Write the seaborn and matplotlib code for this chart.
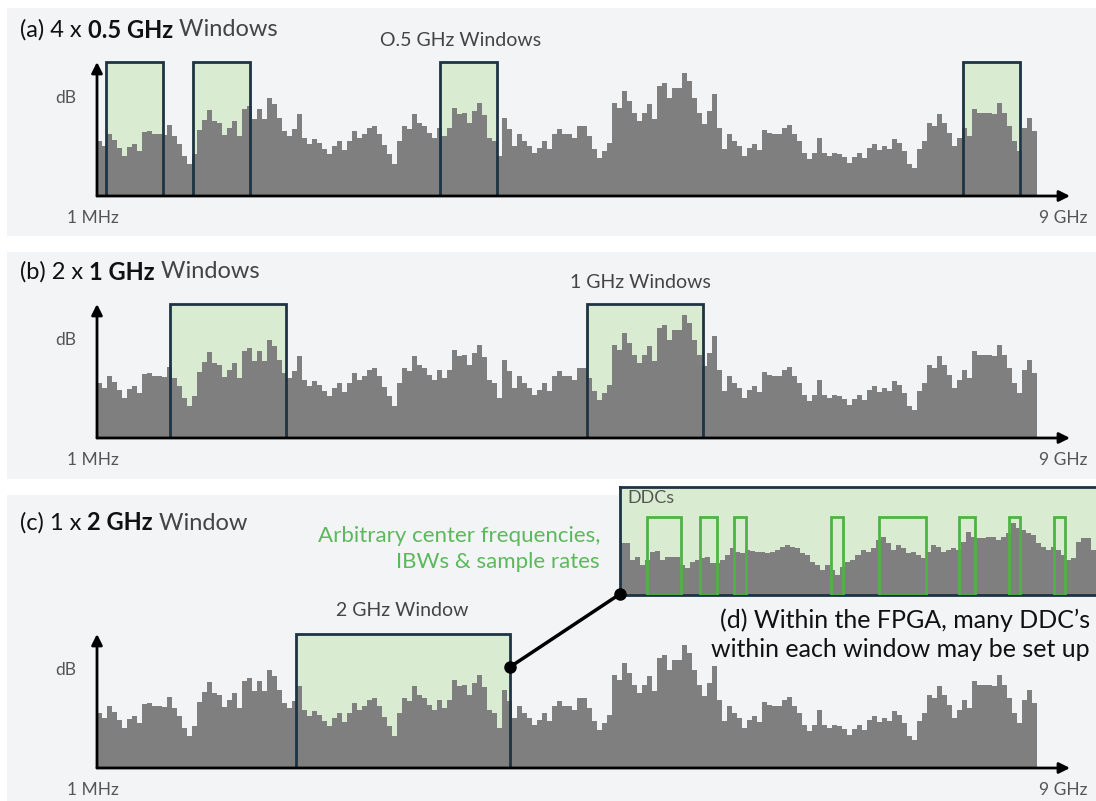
import numpy as np
import pandas as pd
import matplotlib
matplotlib.use("Agg")
import matplotlib.pyplot as plt
from matplotlib.patches import Rectangle
from matplotlib.lines import Line2D
import seaborn as sns

# spectrum heights (same trace in all three panels), 188 bins over 0..9 GHz
spectrum_db = [55, 50, 62, 56, 48, 40, 49, 52, 45, 64, 65, 62, 62, 61, 71, 60, 52, 40, 32, 42,
               66, 76, 86, 75, 73, 61, 68, 75, 60, 87, 90, 77,
               87, 77, 98, 92, 78, 65, 60, 67, 82, 58, 52, 57, 53, 47, 42, 50, 55, 46, 55, 65,
               58, 62, 68, 70, 62, 51, 42, 32, 55, 70, 67,
               82, 73, 70, 63, 58, 68, 60, 68, 88, 82, 83, 73, 85, 93, 81, 58, 55, 40, 78, 67,
               50, 62, 55, 50, 43, 48, 55, 47, 62, 67, 62,
               62, 58, 70, 70, 60, 47, 38, 45, 53, 93, 88, 105, 95, 83, 75, 83, 92, 77, 110, 113,
               98, 108, 108, 123, 115, 98, 83, 72, 85, 102, 68,
               47, 62, 55, 50, 40, 48, 52, 46, 66, 63, 62, 62, 68, 71, 62, 55, 43, 37, 43, 58,
               43, 40, 43, 42, 39, 33, 39, 43, 38, 48, 52,
               46, 50, 47, 57, 53, 45, 32, 28, 47, 55, 73, 70, 82, 73, 63, 50, 58, 68, 60, 87,
               83, 83, 83, 82, 93, 83, 70, 55, 45, 68, 78, 65]

# zoomed spectrum inside the 2 GHz window (inset d)
inset_db = [52, 52, 35, 38, 30, 35, 43, 44, 35, 38, 38, 38, 30, 27, 33, 35, 37, 38, 32, 32,
            35, 40, 47, 43, 42, 45, 44, 43, 43, 42, 43, 45, 48, 50, 48, 47, 42, 40, 33, 30,
            25, 30, 25, 20, 28, 33, 35, 40, 45, 43, 47, 55, 58, 52, 45, 50, 47, 42, 43, 40,
            37, 43, 50, 48, 43, 45, 47, 45, 53, 63, 58, 57, 57, 58, 58, 55, 58, 62, 72, 67,
            65, 62, 60, 52, 48, 45, 48, 45, 40, 35, 37, 53, 57, 57, 45]

win_a_start = [0.086, 0.919, 3.284, 8.292]
win_a_width = 0.546
win_b_start = [0.699, 4.692]
win_b_width = 1.11
win_c_start = [1.905]
win_c_width = 2.05

ddc_center = [2.185, 2.372, 2.504, 2.912, 3.187, 3.458, 3.657, 3.847]
ddc_width = [0.143, 0.071, 0.050, 0.050, 0.198, 0.067, 0.046, 0.046]

W, H = 1096, 801
PX_PER_GHZ = 940 / 9
GRAY = "#7f7f7f"
GREEN_FILL = "#d9ebd0"
NAVY = "#1e3343"
DDC_GREEN = "#4fb245"

sns.set_theme(style="white")
plt.rcParams["font.family"] = ["Lato", "DejaVu Sans"]

fig = plt.figure(figsize=(W / 100, H / 100), dpi=100)
fig.patch.set_facecolor("white")


def fx(px):
    return px / W


def fy(py):
    return 1 - py / H


# panel backgrounds
for top, bottom in [(8, 236), (252, 479), (495, 801)]:
    fig.add_artist(Rectangle((fx(7), fy(bottom)), fx(1096) - fx(7), (bottom - top) / H,
                             transform=fig.transFigure, facecolor="#f3f4f6",
                             edgecolor="none", zorder=0))


def spectrum_bars(ax, values, lo, hi):
    n = len(values)
    step = (hi - lo) / n
    df = pd.DataFrame({"freq": [lo + step * (i + 0.5) for i in range(n)], "db": values})
    sns.histplot(data=df, x="freq", weights="db", bins=n, binrange=(lo, hi), ax=ax,
                 element="step", fill=True, color=GRAY, alpha=1, linewidth=0, zorder=2)
    ax.set_xlabel("")
    ax.set_ylabel("")


def spectrum_panel(baseline, starts, width):
    ax = fig.add_axes([fx(97), fy(baseline), fx(1070) - fx(97), 140 / H])
    spectrum_bars(ax, spectrum_db, 0, 9)
    ax.axis("off")
    ax.set_xlim(0, (1070 - 97) / PX_PER_GHZ)
    ax.set_ylim(0, 140)
    for s in starts:
        ax.add_patch(Rectangle((s, 0), width, 134, facecolor=GREEN_FILL,
                               edgecolor="none", zorder=1))
        ax.add_patch(Rectangle((s, 0), width, 134, fill=False, edgecolor=NAVY,
                               lw=2, zorder=4))
    arrow = dict(arrowstyle="-|>", color="black", lw=2, mutation_scale=16,
                 shrinkA=0, shrinkB=0)
    ax.annotate("", xy=(0, 134), xytext=(0, 0), arrowprops=arrow,
                annotation_clip=False, zorder=5)
    ax.annotate("", xy=((1070 - 97) / PX_PER_GHZ, 0), xytext=(0, 0), arrowprops=arrow,
                annotation_clip=False, zorder=5)
    return ax


ax_a = spectrum_panel(196, win_a_start, win_a_width)
ax_b = spectrum_panel(438, win_b_start, win_b_width)
ax_c = spectrum_panel(768, win_c_start, win_c_width)

# axis labels per panel
for base in [196, 438, 768]:
    fig.text(fx(66), fy(base - 98), "dB", ha="center", va="center", fontsize=12.5,
             color="#555555")
    fig.text(fx(93), fy(base + 22), "1 MHz", ha="center", va="center", fontsize=12.5,
             color="#555555")
    fig.text(fx(1063), fy(base + 22), "9 GHz", ha="center", va="center", fontsize=12.5,
             color="#555555")

fig.text(fx(461), fy(40), "O.5 GHz Windows", ha="center", va="center", fontsize=14,
         color="#444444")
fig.text(fx(640), fy(282), "1 GHz Windows", ha="center", va="center", fontsize=14,
         color="#444444")
fig.text(fx(402), fy(611), "2 GHz Window", ha="center", va="center", fontsize=14,
         color="#444444")

renderer = fig.canvas.get_renderer()


def title(x, y, parts):
    for txt, weight, col in parts:
        t = fig.text(fx(x), fy(y), txt, ha="left", va="center", fontsize=17,
                     fontweight=weight, color=col)
        x = t.get_window_extent(renderer).x1


title(20, 30, [("(a) 4 x ", "normal", "#111111"), ("0.5 GHz", "bold", "#111111"),
               (" Windows", "normal", "#444444")])
title(20, 272, [("(b) 2 x ", "normal", "#111111"), ("1 GHz", "bold", "#111111"),
                (" Windows", "normal", "#444444")])
title(20, 523, [("(c) 1 x ", "normal", "#111111"), ("2 GHz", "bold", "#111111"),
                (" Window", "normal", "#444444")])

fig.text(fx(600), fy(549), "Arbitrary center frequencies,\nIBWs & sample rates",
         ha="right", va="center", fontsize=16, color="#5cb85c", linespacing=1.4)
fig.text(fx(1090), fy(635), "(d) Within the FPGA, many DDC\u2019s\nwithin each window may be set up",
         ha="right", va="center", fontsize=18, color="#111111", linespacing=1.3)

# inset (d): zoom into the 2 GHz window
ax_d = fig.add_axes([fx(620), fy(595), fx(1098) - fx(620), 108 / H])
ax_d.set_facecolor(GREEN_FILL)
spectrum_bars(ax_d, inset_db, 2.0, 4.0)
ax_d.set_xlim(2.0, 2.0 + 478 / 476 * 2)
ax_d.set_ylim(0, 108)
ax_d.set_xticks([])
ax_d.set_yticks([])
for sp in ax_d.spines.values():
    sp.set_color(NAVY)
    sp.set_linewidth(2)
for c, w in zip(ddc_center, ddc_width):
    ax_d.add_patch(Rectangle((c - w / 2, 0), w, 78, fill=False, edgecolor=DDC_GREEN,
                             lw=2, zorder=3))
ax_d.text(0.015, 0.9, "DDCs", transform=ax_d.transAxes, ha="left", va="center",
          fontsize=13, color="#555555")

# connector between window and inset
fig.add_artist(Line2D([fx(510), fx(620)], [fy(667), fy(594)], transform=fig.transFigure,
                      color="black", lw=2.5, marker="o", markersize=8, zorder=10))

fig.savefig("out.png", dpi=100)
